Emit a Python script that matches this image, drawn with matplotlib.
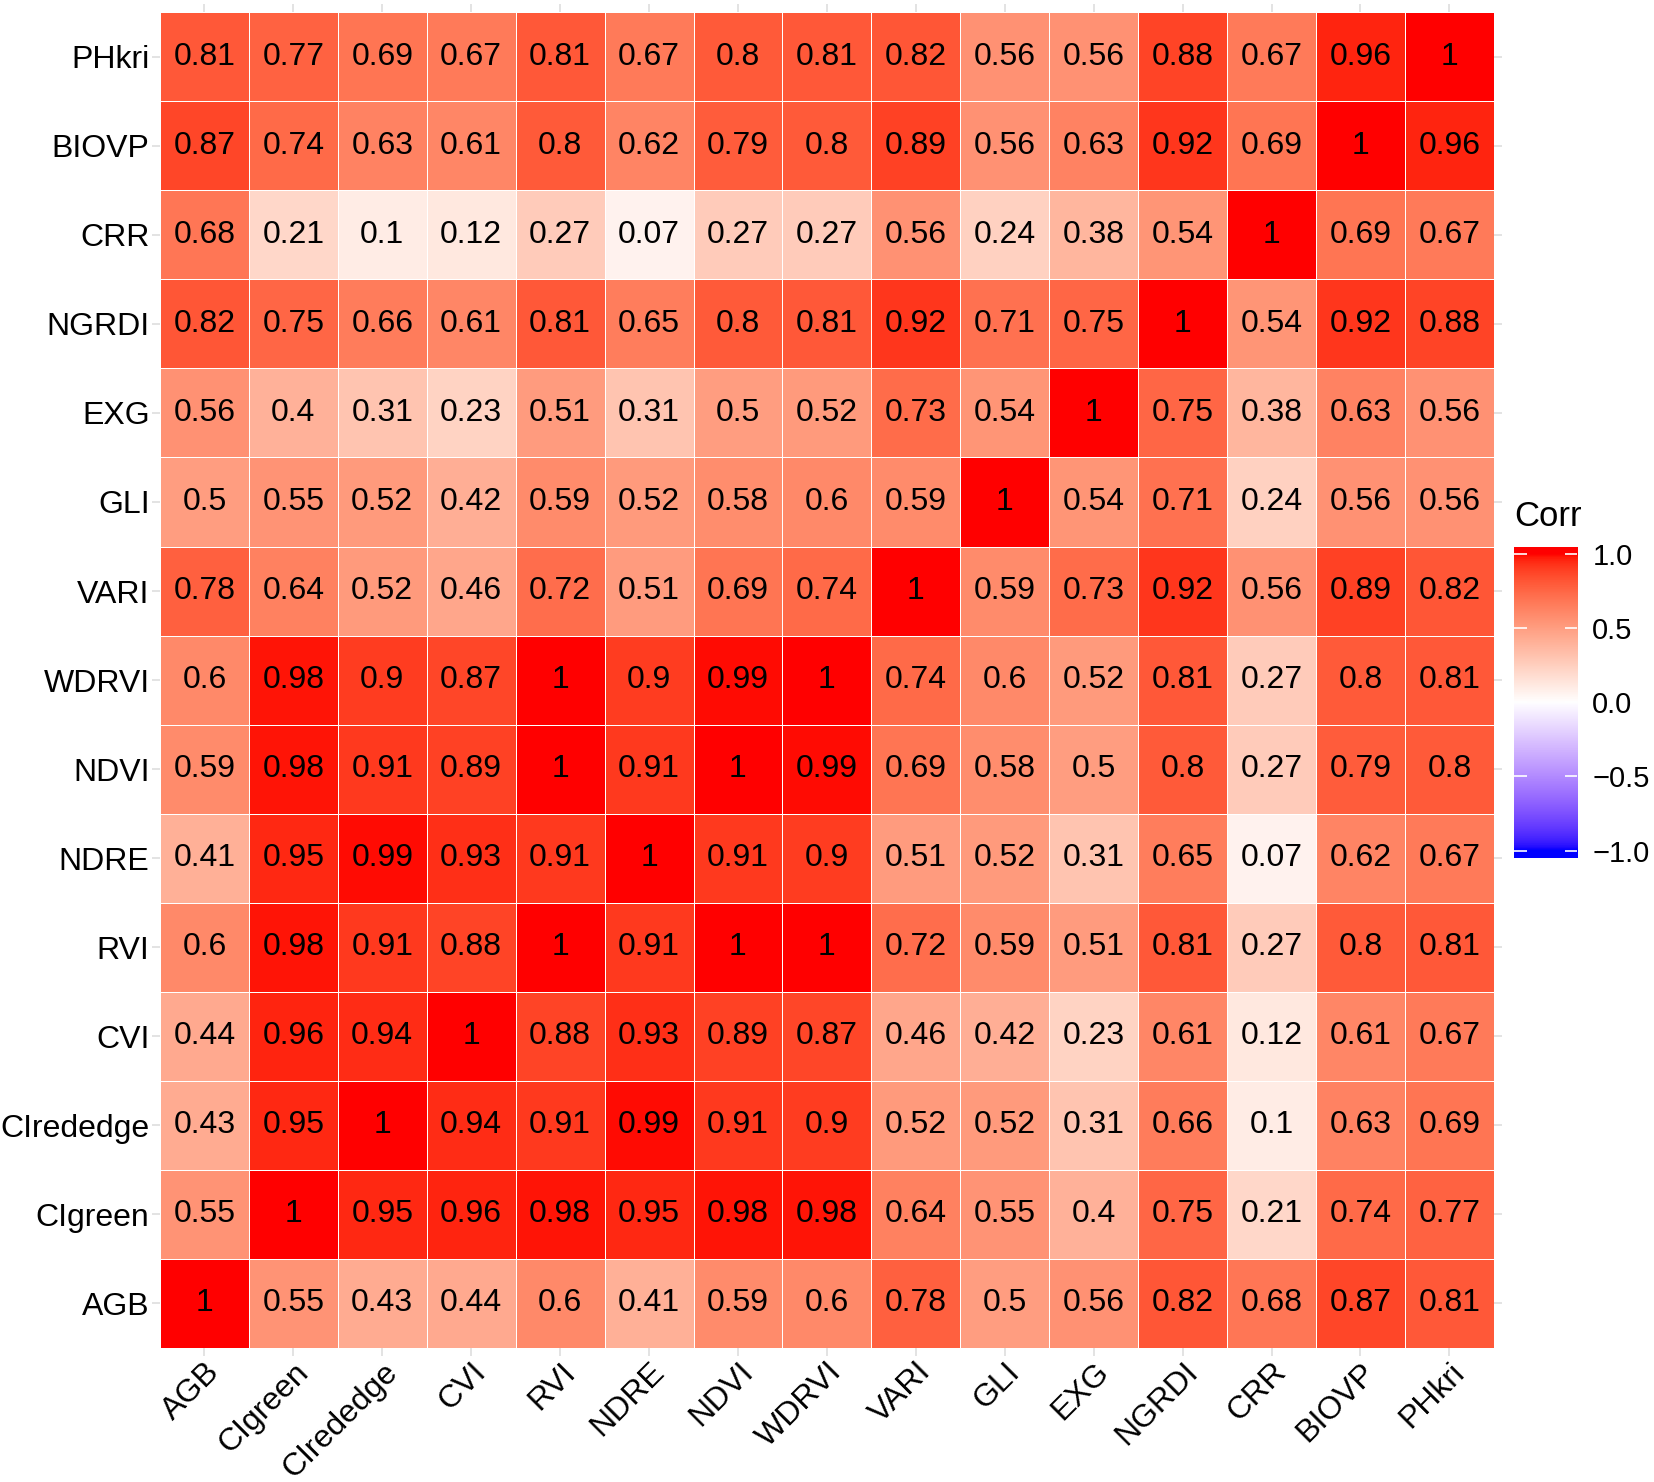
import numpy as np
import matplotlib
matplotlib.use('Agg')
import matplotlib.pyplot as plt
from matplotlib.colors import ListedColormap

plt.rcParams['font.family'] = ['Liberation Sans', 'DejaVu Sans']

# variaveis (mesma ordem nos dois eixos, de baixo para cima no eixo y)
variaveis = ['AGB', 'CIgreen', 'CIrededge', 'CVI', 'RVI', 'NDRE', 'NDVI', 'WDRVI',
             'VARI', 'GLI', 'EXG', 'NGRDI', 'CRR', 'BIOVP', 'PHkri']

# correlacoes, uma linha por variavel
AGB       = [1, 0.55, 0.43, 0.44, 0.6, 0.41, 0.59, 0.6, 0.78, 0.5, 0.56, 0.82, 0.68, 0.87, 0.81]
CIgreen   = [0.55, 1, 0.95, 0.96, 0.98, 0.95, 0.98, 0.98, 0.64, 0.55, 0.4, 0.75, 0.21, 0.74, 0.77]
CIrededge = [0.43, 0.95, 1, 0.94, 0.91, 0.99, 0.91, 0.9, 0.52, 0.52, 0.31, 0.66, 0.1, 0.63, 0.69]
CVI       = [0.44, 0.96, 0.94, 1, 0.88, 0.93, 0.89, 0.87, 0.46, 0.42, 0.23, 0.61, 0.12, 0.61, 0.67]
RVI       = [0.6, 0.98, 0.91, 0.88, 1, 0.91, 1, 1, 0.72, 0.59, 0.51, 0.81, 0.27, 0.8, 0.81]
NDRE      = [0.41, 0.95, 0.99, 0.93, 0.91, 1, 0.91, 0.9, 0.51, 0.52, 0.31, 0.65, 0.07, 0.62, 0.67]
NDVI      = [0.59, 0.98, 0.91, 0.89, 1, 0.91, 1, 0.99, 0.69, 0.58, 0.5, 0.8, 0.27, 0.79, 0.8]
WDRVI     = [0.6, 0.98, 0.9, 0.87, 1, 0.9, 0.99, 1, 0.74, 0.6, 0.52, 0.81, 0.27, 0.8, 0.81]
VARI      = [0.78, 0.64, 0.52, 0.46, 0.72, 0.51, 0.69, 0.74, 1, 0.59, 0.73, 0.92, 0.56, 0.89, 0.82]
GLI       = [0.5, 0.55, 0.52, 0.42, 0.59, 0.52, 0.58, 0.6, 0.59, 1, 0.54, 0.71, 0.24, 0.56, 0.56]
EXG       = [0.56, 0.4, 0.31, 0.23, 0.51, 0.31, 0.5, 0.52, 0.73, 0.54, 1, 0.75, 0.38, 0.63, 0.56]
NGRDI     = [0.82, 0.75, 0.66, 0.61, 0.81, 0.65, 0.8, 0.81, 0.92, 0.71, 0.75, 1, 0.54, 0.92, 0.88]
CRR       = [0.68, 0.21, 0.1, 0.12, 0.27, 0.07, 0.27, 0.27, 0.56, 0.24, 0.38, 0.54, 1, 0.69, 0.67]
BIOVP     = [0.87, 0.74, 0.63, 0.61, 0.8, 0.62, 0.79, 0.8, 0.89, 0.56, 0.63, 0.92, 0.69, 1, 0.96]
PHkri     = [0.81, 0.77, 0.69, 0.67, 0.81, 0.67, 0.8, 0.81, 0.82, 0.56, 0.56, 0.88, 0.67, 0.96, 1]

corr = np.array([AGB, CIgreen, CIrededge, CVI, RVI, NDRE, NDVI, WDRVI,
                 VARI, GLI, EXG, NGRDI, CRR, BIOVP, PHkri])

cbar_ticks = [-1.0, -0.5, 0.0, 0.5, 1.0]
cbar_labels = ['\u22121.0', '\u22120.5', '0.0', '0.5', '1.0']


# gradiente azul-branco-vermelho interpolado em Lab (como no ggplot)
def rgb2lab(rgb):
    c = np.where(rgb <= 0.04045, rgb / 12.92, ((rgb + 0.055) / 1.055) ** 2.4)
    M = np.array([[0.4124, 0.3576, 0.1805],
                  [0.2126, 0.7152, 0.0722],
                  [0.0193, 0.1192, 0.9505]])
    xyz = M @ c / np.array([0.95047, 1.0, 1.08883])
    f = np.where(xyz > 0.008856, np.cbrt(xyz), 7.787 * xyz + 16 / 116)
    return np.array([116 * f[1] - 16, 500 * (f[0] - f[1]), 200 * (f[1] - f[2])])


def lab2rgb(lab):
    fy = (lab[0] + 16) / 116
    fx = fy + lab[1] / 500
    fz = fy - lab[2] / 200
    f = np.array([fx, fy, fz])
    xyz = np.where(f ** 3 > 0.008856, f ** 3, (f - 16 / 116) / 7.787)
    xyz = xyz * np.array([0.95047, 1.0, 1.08883])
    Minv = np.array([[3.2406, -1.5372, -0.4986],
                     [-0.9689, 1.8758, 0.0415],
                     [0.0557, -0.2040, 1.0570]])
    c = Minv @ xyz
    c = np.where(c <= 0.0031308, 12.92 * c, 1.055 * np.clip(c, 0, None) ** (1 / 2.4) - 0.055)
    return np.clip(c, 0, 1)


azul = rgb2lab(np.array([0.0, 0.0, 1.0]))
branco = rgb2lab(np.array([1.0, 1.0, 1.0]))
vermelho = rgb2lab(np.array([1.0, 0.0, 0.0]))
cores = []
for t in np.linspace(-1, 1, 256):
    if t < 0:
        lab = branco + (azul - branco) * (-t)
    else:
        lab = branco + (vermelho - branco) * t
    cores.append(lab2rgb(lab))
cmap = ListedColormap(cores)

fig = plt.figure(figsize=(16.54, 14.82), dpi=100)
ax = fig.add_axes([0.0967, 0.0904, 0.8065, 0.9014])

n = len(variaveis)
mesh = ax.pcolormesh(np.arange(n + 1), np.arange(n + 1), corr, cmap=cmap, vmin=-1, vmax=1,
                     edgecolors='white', linewidth=0.6)

for i in range(n):
    for j in range(n):
        ax.text(j + 0.5, i + 0.5, f'{corr[i, j]:g}', ha='center', va='center',
                fontsize=23, color='black')

ax.set_xlim(0, n)
ax.set_ylim(0, n)
ax.set_xticks(np.arange(n) + 0.5)
ax.set_yticks(np.arange(n) + 0.5)
ax.set_xticklabels(variaveis, rotation=45, ha='right', va='top', rotation_mode='anchor')
ax.set_yticklabels(variaveis)
ax.tick_params(axis='both', labelsize=23, length=6, width=1.2, color='#dedede',
               labelcolor='black', top=True, right=True)
ax.tick_params(axis='x', pad=0.5)
ax.tick_params(axis='y', pad=1.5)
for s in ax.spines.values():
    s.set_visible(False)

# barra de cores
cax = fig.add_axes([0.9154, 0.4211, 0.0381, 0.2099])
grad = np.linspace(-1.05, 1.05, 400).reshape(-1, 1)
cax.imshow(grad, cmap=cmap, vmin=-1, vmax=1, aspect='auto', origin='lower',
           extent=[0, 1, -1.05, 1.05])
cax.set_xlim(0, 1)
cax.set_ylim(-1.05, 1.05)
cax.set_xticks([])
cax.set_yticks(cbar_ticks)
cax.set_yticklabels(cbar_labels)
cax.yaxis.tick_right()
cax.tick_params(axis='y', direction='in', left=True, right=True, length=9, width=1.2,
                color='white', labelsize=21, pad=11)
for s in cax.spines.values():
    s.set_visible(False)
fig.text(0.9154, 1 - 517 / 1482, 'Corr', fontsize=25, ha='left', va='center')

plt.savefig('out.png', dpi=100)
